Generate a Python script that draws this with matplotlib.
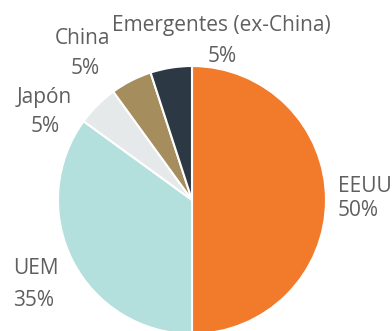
import matplotlib
matplotlib.use("Agg")
import matplotlib.pyplot as plt

labels = ["EEUU", "UEM", "Japón", "China", "Emergentes (ex-China)"]
values = [50, 35, 5, 5, 5]
colors = ["#F27B2B", "#B3DFDC", "#E6E9EA", "#A58D5E", "#2C3843"]

W, H = 392, 331
fig = plt.figure(figsize=(W / 100, H / 100), dpi=100)
ax = fig.add_axes([0, 0, 1, 1])

cx, cy, r = 192, H - 200, 134
ax.pie(values, colors=colors, startangle=90, counterclock=False,
       center=(cx, cy), radius=r,
       wedgeprops=dict(edgecolor="white", linewidth=1.5))
ax.set_xlim(0, W)
ax.set_ylim(0, H)
ax.set_aspect("auto")
ax.axis("off")

tc = "#5f5f5f"
fs = 15
fam = ["Open Sans", "DejaVu Sans"]
# (name x, name y, pct x, pct y, ha) in pixels from top-left
pos = {
    "EEUU": (338, 187, 338, 211, "left"),
    "UEM": (13, 269, 13, 300, "left"),
    "Japón": (44, 98, 45, 127, "center"),
    "China": (83, 38, 85, 68, "center"),
    "Emergentes (ex-China)": (221, 26, 222, 56, "center"),
}
for lab, v in zip(labels, values):
    x1, y1, x2, y2, ha = pos[lab]
    ax.text(x1, H - y1, lab, ha=ha, va="center", fontsize=fs, color=tc, family=fam)
    ax.text(x2, H - y2, f"{v}%", ha=ha, va="center", fontsize=fs, color=tc, family=fam)

fig.savefig("out.png", dpi=100)
